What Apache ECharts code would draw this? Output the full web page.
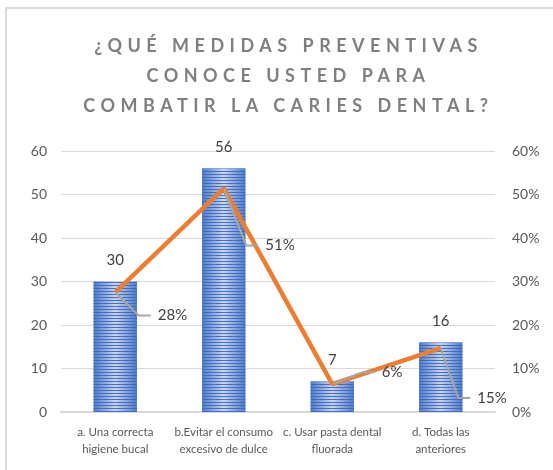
<!DOCTYPE html>
<html>
<head>
<meta charset="utf-8">
<script src="https://cdn.jsdelivr.net/npm/echarts@6/dist/echarts.min.js"></script>
<style>
    html, body { margin: 0; padding: 0; background: #fff; }
    #wrap { position: relative; width: 553px; height: 470px; }
    #main { width: 553px; height: 470px; }
    #titulo {
        position: absolute; left: 0; top: 30px; width: 553px;
        text-align: center; pointer-events: none;
        font-family: Lato, 'Open Sans', sans-serif; font-weight: bold;
        font-size: 18px; line-height: 30px; letter-spacing: 5.5px;
        color: #7f7f7f; padding-left: 24px; box-sizing: border-box;
    }
</style>
</head>
<body>
<div id="wrap">
    <div id="main"></div>
    <div id="titulo">¿QUÉ MEDIDAS PREVENTIVAS<br>CONOCE USTED PARA<br>COMBATIR LA CARIES DENTAL?</div>
</div>
<script>
// categorias
const categorias = [
    'a. Una correcta\nhigiene bucal',
    'b.Evitar el consumo\nexcesivo de dulce',
    'c. Usar pasta dental\nfluorada',
    'd. Todas las\nanteriores'
];
// frecuencias
const frecuencias = [30, 56, 7, 16];
// porcentajes
const porcentajes = [0.275, 0.514, 0.064, 0.147];
// etiquetas eje izquierdo / derecho
const ticksIzq = [0, 10, 20, 30, 40, 50, 60];
const ticksDer = [0, 0.1, 0.2, 0.3, 0.4, 0.5, 0.6];

// desplazamiento de las etiquetas de porcentaje
const offsetPct = [[30, 23], [29, 57], [37, -12], [24, 50]];

const myChart = echarts.init(document.getElementById('main'));
const option = {
    animation: false,
    textStyle: { fontFamily: 'Lato, sans-serif' },
    graphic: [{
        type: 'rect',
        shape: { x: 6, y: 8, width: 600, height: 600 },
        style: { fill: 'none', stroke: '#d9d9d9', lineWidth: 2 },
        silent: true
    }],
    grid: { left: 61, right: 58, top: 151, bottom: 58 },
    xAxis: {
        type: 'category',
        data: categorias,
        axisTick: { show: false },
        axisLine: { lineStyle: { color: '#d9d9d9', width: 2 } },
        axisLabel: {
            interval: 0, color: '#595959', fontSize: 11.5, lineHeight: 17, margin: 12
        }
    },
    yAxis: [{
        type: 'value',
        min: ticksIzq[0], max: ticksIzq[ticksIzq.length - 1], interval: 10,
        axisLine: { show: false }, axisTick: { show: false },
        splitLine: { lineStyle: { color: '#d9d9d9', width: 1 } },
        axisLabel: { color: '#595959', fontSize: 14, margin: 14 }
    }, {
        type: 'value',
        min: ticksDer[0], max: ticksDer[ticksDer.length - 1], interval: 0.1,
        axisLine: { show: false }, axisTick: { show: false },
        splitLine: { show: false },
        axisLabel: {
            color: '#595959', fontSize: 14, margin: 17,
            formatter: v => Math.round(v * 100) + '%'
        }
    }],
    series: [{
        type: 'bar',
        data: frecuencias,
        barWidth: '40%',
        itemStyle: {
            color: new echarts.graphic.LinearGradient(0, 0, 1, 0, [
                { offset: 0, color: '#4f7bc8' },
                { offset: 0.5, color: '#c8d5ef' },
                { offset: 1, color: '#4f7bc8' }
            ]),
            decal: {
                symbol: 'rect', symbolSize: 1,
                dashArrayX: [1, 0], dashArrayY: [1, 2],
                color: 'rgba(58,102,190,0.9)'
            }
        },
        label: {
            show: true, position: 'top', distance: 14,
            color: '#404040', fontSize: 15
        }
    }, {
        type: 'line',
        yAxisIndex: 1,
        data: porcentajes,
        symbol: 'circle',
        symbolSize: 1,
        showSymbol: true,
        itemStyle: { color: '#ed7d31' },
        lineStyle: { color: '#ed7d31', width: 4.5 },
        label: {
            show: true, position: 'right', color: '#404040', fontSize: 15,
            backgroundColor: 'rgba(255,255,255,0)',
            padding: [0, 2, 0, 7],
            formatter: p => Math.round(p.value * 100) + '%'
        },
        labelLine: { show: true, length2: 12, lineStyle: { color: '#a6a6a6', width: 2 } },
        labelLayout: p => ({ dx: offsetPct[p.dataIndex][0], dy: offsetPct[p.dataIndex][1] })
    }]
};
myChart.setOption(option);
</script>
</body>
</html>
